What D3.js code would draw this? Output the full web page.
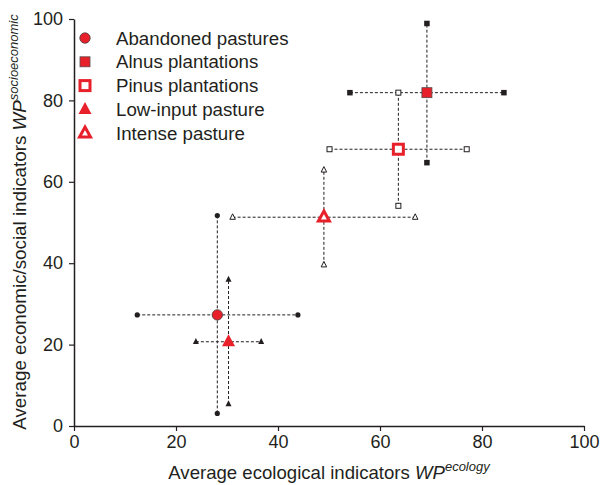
<!DOCTYPE html>
<html><head><meta charset="utf-8">
<script src="https://cdn.jsdelivr.net/npm/d3@7"></script>
<style>body{margin:0;background:#fff}svg text{font-family:"Liberation Sans",Arial,sans-serif;fill:#231f20}</style>
</head><body><svg id="c" width="602" height="485"></svg>
<script>
const categories = ["Abandoned pastures","Alnus plantations","Pinus plantations","Low-input pasture","Intense pasture"];
const shapes = ["circle","square","squareOpen","triangle","triangleOpen"];
const xMean = [28.1, 69.2, 63.6, 30.3, 49.0];
const yMean = [27.3, 81.9, 68.0, 20.7, 51.3];
const xLow  = [12.4, 54.1, 50.1, 23.9, 31.1];
const xHigh = [43.9, 84.3, 77.0, 36.7, 66.9];
const yLow  = [3.1, 64.7, 54.1, 5.4, 39.6];
const yHigh = [51.7, 98.9, 81.9, 36.0, 62.9];
const xTicks = [0,20,40,60,80,100];
const yTicks = [0,20,40,60,80,100];

const svg = d3.select("#c");
const x = d3.scaleLinear().domain([0,100]).range([74,584]);
const y = d3.scaleLinear().domain([0,100]).range([426,19]);
const red = "#e8202a";

const gx = svg.append("g").attr("transform","translate(0,426)")
  .call(d3.axisBottom(x).tickValues(xTicks).tickSize(5).tickSizeOuter(0).tickPadding(4));
const gy = svg.append("g").attr("transform","translate(74,0)")
  .call(d3.axisLeft(y).tickValues(yTicks).tickSize(5).tickSizeOuter(0).tickPadding(6));
[gx,gy].forEach(g=>{
  g.selectAll("path").attr("stroke","#231f20").attr("stroke-width",1.5);
  g.selectAll("line").attr("stroke","#231f20").attr("stroke-width",1.2);
  g.selectAll("text").style("font-size","18px").attr("fill","#231f20");
});

function drawSym(g, kind, cx, cy, big){
  if(kind==="circle"){
    g.append("circle").attr("cx",cx).attr("cy",cy).attr("r",big?5.2:2.6)
     .attr("fill",big?red:"#231f20").attr("stroke",big?"#4a3a3a":"none").attr("stroke-width",0.8);
  } else if(kind==="square"){
    const a = big?10:5.5;
    g.append("rect").attr("x",cx-a/2).attr("y",cy-a/2).attr("width",a).attr("height",a)
     .attr("fill",big?red:"#231f20").attr("stroke",big?"#5a4a4a":"none").attr("stroke-width",0.8);
  } else if(kind==="squareOpen"){
    const a = big?10:5;
    g.append("rect").attr("x",cx-a/2).attr("y",cy-a/2).attr("width",a).attr("height",a)
     .attr("fill","#fff").attr("stroke",big?red:"#231f20").attr("stroke-width",big?3:1);
  } else if(kind==="triangle"){
    const w = big?13:6, h = big?12:6;
    g.append("path").attr("d",`M${cx},${cy-h*0.62}L${cx+w/2},${cy+h*0.38}L${cx-w/2},${cy+h*0.38}Z`)
     .attr("fill",big?red:"#231f20");
  } else if(kind==="triangleOpen"){
    const w = big?11:5.5, h = big?10:5.5;
    g.append("path").attr("d",`M${cx},${cy-h*0.62}L${cx+w/2},${cy+h*0.38}L${cx-w/2},${cy+h*0.38}Z`)
     .attr("fill","#fff").attr("stroke",big?red:"#231f20").attr("stroke-width",big?3:1)
     .attr("stroke-linejoin","miter");
  }
}

const gl = svg.append("g");
categories.forEach((c,i)=>{
  gl.append("line").attr("x1",x(xLow[i])).attr("x2",x(xHigh[i])).attr("y1",y(yMean[i])).attr("y2",y(yMean[i]))
    .attr("stroke","#231f20").attr("stroke-width",1).attr("stroke-dasharray","3,2");
  gl.append("line").attr("x1",x(xMean[i])).attr("x2",x(xMean[i])).attr("y1",y(yLow[i])).attr("y2",y(yHigh[i]))
    .attr("stroke","#231f20").attr("stroke-width",1).attr("stroke-dasharray","3,2");
});
const gm = svg.append("g");
categories.forEach((c,i)=>{
  drawSym(gm, shapes[i], x(xLow[i]), y(yMean[i]), false);
  drawSym(gm, shapes[i], x(xHigh[i]), y(yMean[i]), false);
  drawSym(gm, shapes[i], x(xMean[i]), y(yLow[i]), false);
  drawSym(gm, shapes[i], x(xMean[i]), y(yHigh[i]), false);
});
categories.forEach((c,i)=>{
  drawSym(gm, shapes[i], x(xMean[i]), y(yMean[i]), true);
});

const leg = svg.append("g");
categories.forEach((c,i)=>{
  const ly = 38 + i*23.8;
  drawSym(leg, shapes[i], 85, ly, true);
  leg.append("text").attr("x",116).attr("y",ly+6.5).style("font-size","18.7px").text(c);
});

const xt = svg.append("text").attr("x",329).attr("y",479).attr("text-anchor","middle").style("font-size","18.6px");
xt.append("tspan").text("Average ecological indicators ");
xt.append("tspan").style("font-style","italic").text("WP");
xt.append("tspan").style("font-style","italic").style("font-size","13px").attr("dy",-8).text("ecology");

const yt = svg.append("text").attr("transform","translate(26,222) rotate(-90)").attr("text-anchor","middle").style("font-size","18.8px");
yt.append("tspan").text("Average economic/social indicators ");
yt.append("tspan").style("font-style","italic").text("WP");
yt.append("tspan").style("font-style","italic").style("font-size","13px").attr("dy",-8).text("socioeconomic");
</script></body></html>
